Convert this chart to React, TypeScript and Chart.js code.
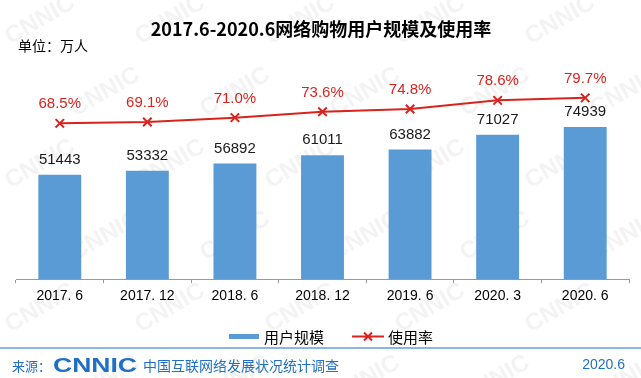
import React, { useEffect, useRef } from "react";
import { Chart, registerables } from "chart.js";

Chart.register(...registerables);

const categories = ["2017. 6", "2017. 12", "2018. 6", "2018. 12", "2019. 6", "2020. 3", "2020. 6"];
const users = [51443, 53332, 56892, 61011, 63882, 71027, 74939];
const rates = [68.5, 69.1, 71.0, 73.6, 74.8, 78.6, 79.7];

const titleText = "2017.6-2020.6网络购物用户规模及使用率";
const unitText = "单位：万人";
const legendBarText = "用户规模";
const legendLineText = "使用率";
const sourceLabel = "来源：";
const logoText = "CNNIC";
const sourceText = "中国互联网络发展状况统计调查";
const dateText = "2020.6";

const BLUE = "#5B9BD5";
const RED = "#D9231D";
const FOOT_BLUE = "#1F6FC5";
const CJK = '"Noto Sans CJK SC", "Noto Sans", sans-serif';
const SANS = '"Liberation Sans", Arial, sans-serif';

const decorPlugin = {
  id: "decor",
  beforeDraw(chart: any) {
    const ctx = chart.ctx;
    ctx.save();
    ctx.fillStyle = "#ffffff";
    ctx.fillRect(0, 0, chart.width, chart.height);
    // faint watermarks
    ctx.fillStyle = "rgba(190,190,190,0.18)";
    ctx.font = "bold 24px " + SANS;
    ctx.textAlign = "center";
    ctx.textBaseline = "middle";
    for (let r = 0; r < 6; r++) {
      for (let c = 0; c < 6; c++) {
        const x = 40 + c * 130 + (r % 2) * 65;
        const y = 20 + r * 72;
        ctx.save();
        ctx.translate(x, y);
        ctx.rotate(-Math.PI / 6);
        ctx.fillText(logoText, 0, 0);
        ctx.restore();
      }
    }
    ctx.restore();
  },
  afterDraw(chart: any) {
    const ctx = chart.ctx;
    ctx.save();
    // title
    ctx.fillStyle = "#000";
    ctx.textAlign = "center";
    ctx.textBaseline = "middle";
    ctx.font = "bold 18px " + CJK;
    ctx.fillText(titleText, 321, 29);
    ctx.textAlign = "left";
    ctx.font = "14px " + CJK;
    ctx.fillText(unitText, 18, 46);

    // data labels
    const barMeta = chart.getDatasetMeta(0);
    ctx.textAlign = "center";
    ctx.font = "15px " + SANS;
    ctx.fillStyle = "#1a1a1a";
    barMeta.data.forEach((el: any, i: number) => {
      ctx.fillText(String(users[i]), el.x, el.y - 15);
    });
    const lineMeta = chart.getDatasetMeta(1);
    ctx.fillStyle = RED;
    lineMeta.data.forEach((el: any, i: number) => {
      ctx.fillText(rates[i].toFixed(1) + "%", el.x, el.y - 19);
    });

    // legend
    ctx.fillStyle = BLUE;
    ctx.fillRect(229, 334, 30, 5);
    ctx.fillStyle = "#000";
    ctx.textAlign = "left";
    ctx.font = "15px " + CJK;
    ctx.fillText(legendBarText, 264, 337);
    ctx.strokeStyle = RED;
    ctx.lineWidth = 2;
    ctx.beginPath();
    ctx.moveTo(352, 336.5);
    ctx.lineTo(384, 336.5);
    ctx.moveTo(364, 332.5);
    ctx.lineTo(372, 340.5);
    ctx.moveTo(372, 332.5);
    ctx.lineTo(364, 340.5);
    ctx.stroke();
    ctx.fillText(legendLineText, 388, 337);

    // footer
    ctx.fillStyle = "#8DB4E2";
    ctx.fillRect(0, 347, chart.width, 2);
    ctx.fillStyle = FOOT_BLUE;
    ctx.font = "13px " + CJK;
    ctx.fillText(sourceLabel, 12, 366);
    ctx.save();
    ctx.font = "900 21px " + SANS;
    const w = ctx.measureText(logoText).width;
    ctx.translate(53, 366);
    ctx.scale(84 / w, 1);
    ctx.fillText(logoText, 0, 0);
    ctx.restore();
    ctx.font = "14px " + CJK;
    ctx.fillText(sourceText, 143, 366);
    ctx.textAlign = "right";
    ctx.font = "14px " + SANS;
    ctx.fillText(dateText, 625, 365);
    ctx.restore();
  },
};

export default function App() {
  const ref = useRef<HTMLCanvasElement | null>(null);
  useEffect(() => {
    if (!ref.current) return;
    const chart = new Chart(ref.current, {
      type: "bar",
      data: {
        labels: categories,
        datasets: [
          {
            type: "bar",
            label: legendBarText,
            data: users,
            backgroundColor: BLUE,
            borderWidth: 0,
            barPercentage: 0.49,
            categoryPercentage: 1,
            yAxisID: "y",
            order: 2,
          },
          {
            type: "line",
            label: legendLineText,
            data: rates,
            borderColor: RED,
            backgroundColor: RED,
            borderWidth: 2,
            pointStyle: "crossRot",
            pointRadius: 6,
            pointBorderWidth: 2,
            pointBorderColor: RED,
            tension: 0,
            yAxisID: "y1",
            order: 1,
          },
        ],
      } as any,
      options: {
        responsive: false,
        animation: false,
        devicePixelRatio: 1,
        layout: { padding: { left: 16, right: 12, top: 76, bottom: 68 } },
        plugins: { legend: { display: false }, tooltip: { enabled: false } },
        scales: {
          x: {
            grid: {
              offset: true,
              drawOnChartArea: false,
              drawTicks: true,
              tickLength: 4,
              color: "#9a9a9a",
            },
            border: { display: true, color: "#9a9a9a", width: 1 },
            ticks: {
              color: "#000",
              font: { size: 14, family: SANS },
              padding: 5,
              maxRotation: 0,
            },
          },
          y: { display: false, min: 0, max: 100000 },
          y1: { display: false, min: 0, max: 89.3 },
        },
      } as any,
      plugins: [decorPlugin],
    });
    return () => chart.destroy();
  }, []);
  return (
    <div style={{ position: "absolute", left: 0, top: 0, width: 641, height: 378 }}>
      <canvas ref={ref} width={641} height={378} />
    </div>
  );
}
